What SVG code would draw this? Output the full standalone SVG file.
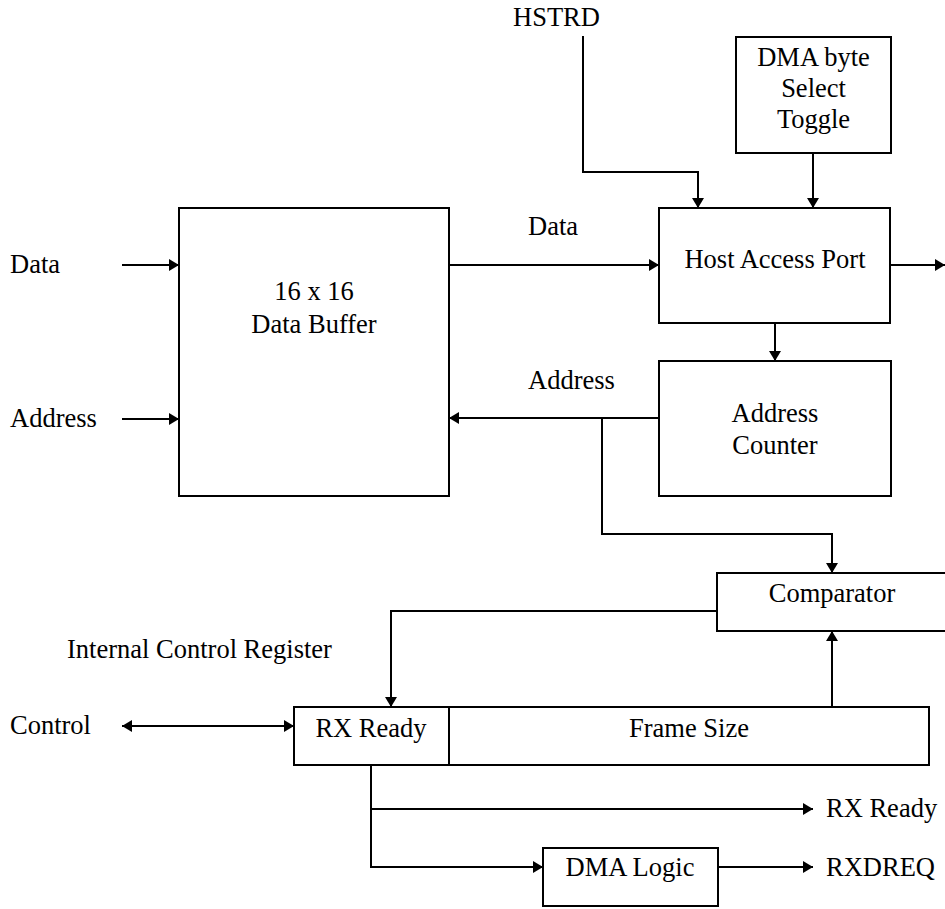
<svg xmlns="http://www.w3.org/2000/svg" width="945" height="909" viewBox="0 0 945 909">
<defs>
<style>
.box{fill:#fff;stroke:#000;stroke-width:2}
.ln{fill:none;stroke:#000;stroke-width:2}
text{font-family:"Liberation Serif","Times New Roman",serif;font-size:26.5px;fill:#000}
.c{text-anchor:middle}
</style>
<marker id="ah" viewBox="0 0 10 12" refX="10" refY="6" markerWidth="10" markerHeight="12" markerUnits="userSpaceOnUse" orient="auto-start-reverse">
<path d="M0,0 L10,6 L0,12 Z" fill="#000"/>
</marker>
</defs>
<rect width="945" height="909" fill="#fff"/>

<g id="connectors">
<line class="ln" x1="122" y1="265" x2="179" y2="265" marker-end="url(#ah)"/>
<line class="ln" x1="122" y1="419" x2="179" y2="419" marker-end="url(#ah)"/>
<line class="ln" x1="449" y1="265" x2="659" y2="265" marker-end="url(#ah)"/>
<line class="ln" x1="890" y1="265" x2="945" y2="265" marker-end="url(#ah)"/>
<polyline class="ln" points="583,36 583,172 698,172 698,208" marker-end="url(#ah)"/>
<line class="ln" x1="813" y1="153" x2="813" y2="208" marker-end="url(#ah)"/>
<line class="ln" x1="775" y1="323" x2="775" y2="361" marker-end="url(#ah)"/>
<line class="ln" x1="659" y1="418" x2="449" y2="418" marker-end="url(#ah)"/>
<polyline class="ln" points="602,418 602,534 832,534 832,573" marker-end="url(#ah)"/>
<polyline class="ln" points="717,611 391,611 391,707" marker-end="url(#ah)"/>
<line class="ln" x1="832" y1="707" x2="832" y2="631" marker-end="url(#ah)"/>
<line class="ln" x1="122" y1="726" x2="294" y2="726" marker-start="url(#ah)" marker-end="url(#ah)"/>
<polyline class="ln" points="371,765 371,867 543,867" marker-end="url(#ah)"/>
<line class="ln" x1="371" y1="809" x2="813" y2="809" marker-end="url(#ah)"/>
<line class="ln" x1="718" y1="867" x2="813" y2="867" marker-end="url(#ah)"/>
</g>

<g id="data-buffer">
<rect class="box" x="179" y="208" width="270" height="288"/>
<text class="c" x="314" y="300">16 x 16</text>
<text class="c" x="314" y="333">Data Buffer</text>
</g>
<g id="host-access-port">
<rect class="box" x="659" y="208" width="231" height="115"/>
<text class="c" x="775" y="268">Host Access Port</text>
</g>
<g id="dma-byte-select-toggle">
<rect class="box" x="736" y="37" width="155" height="116"/>
<text class="c" x="813.5" y="66">DMA byte</text>
<text class="c" x="813.5" y="97">Select</text>
<text class="c" x="813.5" y="128">Toggle</text>
</g>
<g id="address-counter">
<rect class="box" x="659" y="361" width="232" height="135"/>
<text class="c" x="775" y="422">Address</text>
<text class="c" x="775" y="454">Counter</text>
</g>
<g id="comparator">
<rect class="box" x="717" y="573" width="260" height="58"/>
<text class="c" x="832" y="602">Comparator</text>
</g>
<g id="rx-ready-reg">
<rect class="box" x="294" y="707" width="155" height="58"/>
<text class="c" x="371" y="737">RX Ready</text>
</g>
<g id="frame-size">
<rect class="box" x="449" y="707" width="480" height="58"/>
<text class="c" x="689" y="737">Frame Size</text>
</g>
<g id="dma-logic">
<rect class="box" x="543" y="848" width="175" height="58"/>
<text class="c" x="630" y="876">DMA Logic</text>
</g>

<g id="labels">
<text x="513" y="26">HSTRD</text>
<text x="10" y="273">Data</text>
<text x="10" y="427">Address</text>
<text x="528" y="235">Data</text>
<text x="528" y="389">Address</text>
<text x="67" y="658">Internal Control Register</text>
<text x="10" y="734">Control</text>
<text x="826" y="817">RX Ready</text>
<text x="826" y="876">RXDREQ</text>
</g>
</svg>
